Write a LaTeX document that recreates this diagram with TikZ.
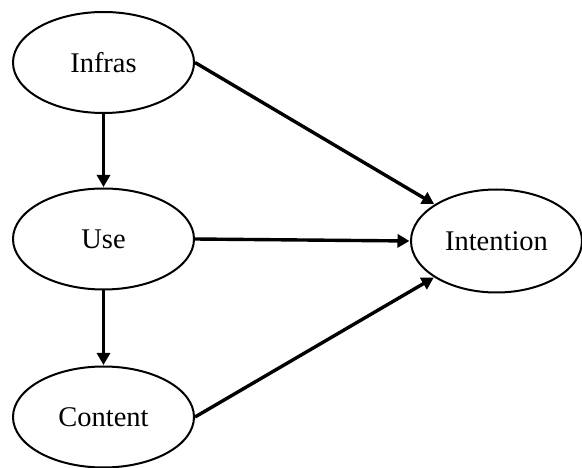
\documentclass[tikz,border=0pt]{standalone}
\usepackage{fontspec}
\setmainfont{Liberation Serif}
\usetikzlibrary{shapes.geometric,arrows.meta}
\begin{document}
\begin{tikzpicture}[x=1pt,y=1pt,
  oval/.style={draw,ellipse,line width=2pt,minimum width=181pt,minimum height=101pt,inner sep=0pt,font=\fontsize{28.5}{32}\selectfont},
  link/.style={line width=3.4pt,-{Triangle[length=12pt,width=13pt]},shorten >=0.5pt}]
\useasboundingbox (0,0) rectangle (582,-468);
\node[oval] (infras) at (103.5,-62.5) {Infras};
\node[oval] (use) at (103.5,-239) {Use};
\node[oval] (content) at (103.5,-417) {Content};
\node[oval,minimum width=171pt,minimum height=103pt] (intention) at (496.5,-241) {Intention};
\draw[link] (infras) -- (use);
\draw[link] (use) -- (content);
\draw[link] (infras.east) -- (intention);
\draw[link] (use.east) -- (intention.west);
\draw[link] (content.east) -- (intention);
\end{tikzpicture}
\end{document}
